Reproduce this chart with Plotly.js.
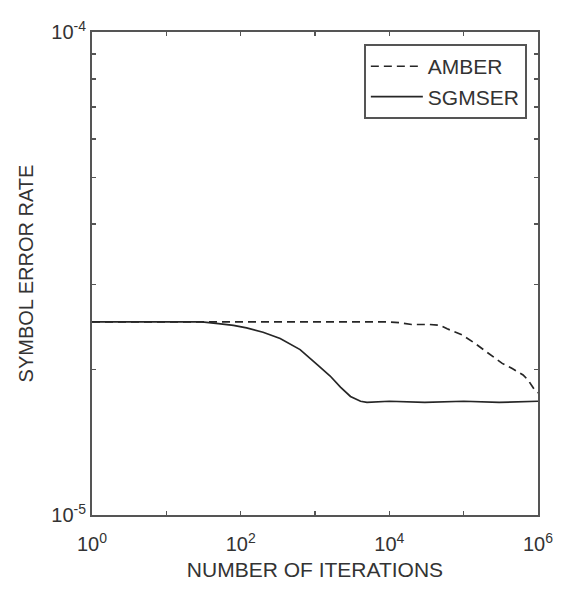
<!DOCTYPE html>
<html>
<head>
<meta charset="utf-8">
<script src="https://cdn.plot.ly/plotly-3.0.1.min.js"></script>
<style>
  html, body { margin: 0; padding: 0; background: #ffffff; }
  #chart { width: 562px; height: 590px; }
</style>
</head>
<body>
<div id="chart"></div>
<script>
// ---- data ----
const amberIter = [1, 10, 100, 1000, 10000, 14000, 20000, 35000, 48000, 60000, 95000, 140000, 220000, 330000, 450000, 630000, 740000, 890000, 1000000];
const amberSER  = [2.51e-5, 2.51e-5, 2.51e-5, 2.51e-5, 2.51e-5, 2.5e-5, 2.48e-5, 2.48e-5, 2.47e-5, 2.43e-5, 2.36e-5, 2.27e-5, 2.16e-5, 2.06e-5, 2.01e-5, 1.95e-5, 1.90e-5, 1.82e-5, 1.79e-5];

const sgmserIter = [1, 10, 30, 50, 80, 120, 200, 340, 630, 1100, 1600, 2200, 3000, 4100, 5000, 10000, 30000, 100000, 300000, 1000000];
const sgmserSER  = [2.51e-5, 2.51e-5, 2.51e-5, 2.49e-5, 2.47e-5, 2.44e-5, 2.39e-5, 2.32e-5, 2.2e-5, 2.04e-5, 1.94e-5, 1.84e-5, 1.76e-5, 1.72e-5, 1.71e-5, 1.72e-5, 1.71e-5, 1.72e-5, 1.71e-5, 1.72e-5];

const xTickVals = [1, 10, 100, 1000, 10000, 100000, 1000000];
const xTickText = ['10<sup>0</sup>', '', '10<sup>2</sup>', '', '10<sup>4</sup>', '', '10<sup>6</sup>'];
const yTickVals = [1e-5, 2e-5, 3e-5, 4e-5, 5e-5, 6e-5, 7e-5, 8e-5, 9e-5, 1e-4];
const yTickText = ['10<sup>-5</sup>', '', '', '', '', '', '', '', '', '10<sup>-4</sup>'];

const seriesNames = ['AMBER', 'SGMSER'];

const FONT = 'Liberation Sans, Arial, Helvetica, sans-serif';
const INK = '#262626';
const AXIS = '#555555';

const traces = [
  {
    x: amberIter, y: amberSER, name: seriesNames[0],
    type: 'scatter', mode: 'lines',
    line: { color: INK, width: 1.7, dash: '8px,5px' }
  },
  {
    x: sgmserIter, y: sgmserSER, name: seriesNames[1],
    type: 'scatter', mode: 'lines',
    line: { color: INK, width: 1.7 }
  }
];

const layout = {
  width: 562, height: 590,
  margin: { l: 92, r: 24, t: 32, b: 75 },
  paper_bgcolor: '#ffffff',
  plot_bgcolor: '#ffffff',
  font: { family: FONT, color: '#333333' },
  showlegend: true,
  legend: {
    x: 0.975, y: 0.975, xanchor: 'right', yanchor: 'top',
    bgcolor: '#ffffff', bordercolor: AXIS, borderwidth: 2,
    font: { family: FONT, size: 21, color: '#333333' },
    itemwidth: 52
  },
  xaxis: {
    type: 'log', range: [0, 6],
    showgrid: false, zeroline: false,
    showline: true, linecolor: AXIS, linewidth: 2, mirror: 'allticks',
    ticks: 'inside', ticklen: 4, tickwidth: 1.5, tickcolor: AXIS,
    tickmode: 'array', tickvals: xTickVals, ticktext: xTickText,
    ticklabelstandoff: 10,
    tickfont: { family: FONT, size: 20, color: '#333333' },
    title: { text: 'NUMBER OF ITERATIONS', font: { family: FONT, size: 21, color: '#333333' }, standoff: 8 }
  },
  yaxis: {
    type: 'log', range: [-5, -4],
    showgrid: false, zeroline: false,
    showline: true, linecolor: AXIS, linewidth: 2, mirror: 'allticks',
    ticks: 'inside', ticklen: 4, tickwidth: 1.5, tickcolor: AXIS,
    tickmode: 'array', tickvals: yTickVals, ticktext: yTickText,
    tickfont: { family: FONT, size: 20, color: '#333333' },
    title: { text: 'SYMBOL ERROR RATE', font: { family: FONT, size: 20, color: '#333333' }, standoff: 12 }
  }
};

Plotly.newPlot('chart', traces, layout, { staticPlot: true, displayModeBar: false });
</script>
</body>
</html>
